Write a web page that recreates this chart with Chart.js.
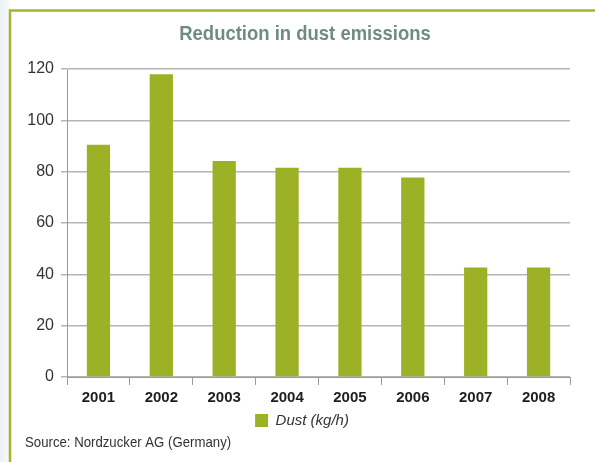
<!DOCTYPE html>
<html lang="en">
<head>
    <meta charset="UTF-8">
    <title>Reduction in dust emissions</title>
    <script src="https://cdn.jsdelivr.net/npm/chart.js"></script>
    <style>
        html, body { margin: 0; padding: 0; background: #fff; }
        #wrap { position: relative; width: 595px; height: 462px; }
    </style>
</head>
<body>
<div id="wrap"><canvas id="dustChart" width="595" height="462"></canvas></div>

<script>
    // data
    const years = ["2001", "2002", "2003", "2004", "2005", "2006", "2007", "2008"];
    const dust = [90.5, 118, 84.2, 81.5, 81.5, 77.7, 42.7, 42.7];
    const yTicks = [0, 20, 40, 60, 80, 100, 120];
    const seriesName = "Dust (kg/h)";
    const sourceText = "Source: Nordzucker AG (Germany)";

    const FONT = "'Liberation Sans Narrow', 'Liberation Sans', Arial, sans-serif";
    const GREEN = "#9db127";

    // text drawn squeezed a bit, the original uses a condensed face
    function narrowText(c, txt, x, y, align, sx) {
        c.save();
        c.translate(x, y);
        c.scale(sx, 1);
        c.textAlign = align;
        c.fillText(txt, 0, 0);
        c.restore();
    }

    // frame, title and source line
    const decor = {
        id: "decor",
        afterUpdate(chart) {
            // legend sits a little right of the canvas centre in the original
            chart.legend.left += 17;
            chart.legend.right += 17;
        },
        beforeDraw(chart) {
            const c = chart.ctx;
            c.save();
            c.fillStyle = "#fff";
            c.fillRect(0, 0, chart.width, chart.height);
            const g = c.createLinearGradient(0, 0, 10, 0);
            g.addColorStop(0, "#eef2f6");
            g.addColorStop(1, "#f8fafb");
            c.fillStyle = g;
            c.fillRect(0, 0, 10, chart.height);
            c.strokeStyle = "#a3b62f";
            c.lineWidth = 2.5;
            c.beginPath();
            c.moveTo(10, chart.height);
            c.lineTo(10, 10.5);
            c.lineTo(chart.width, 10.5);
            c.stroke();
            c.restore();
        },
        afterDraw(chart) {
            const c = chart.ctx;
            c.save();
            c.textBaseline = "middle";
            c.fillStyle = "#6f8b82";
            c.font = "bold 21px " + FONT;
            narrowText(c, "Reduction in dust emissions", 305, 34, "center", 0.88);
            c.fillStyle = "#333";
            c.font = "15px " + FONT;
            narrowText(c, sourceText, 25, 443, "left", 0.88);
            c.restore();
        }
    };

    new Chart(document.getElementById("dustChart"), {
        type: "bar",
        data: {
            labels: years,
            datasets: [{
                label: seriesName,
                data: dust,
                backgroundColor: GREEN,
                borderWidth: 0,
                categoryPercentage: 1,
                barPercentage: 0.37
            }]
        },
        options: {
            responsive: false,
            animation: false,
            devicePixelRatio: 1,
            layout: { padding: { top: 69, left: 0, right: 25, bottom: 24 } },
            plugins: {
                title: { display: false },
                tooltip: { enabled: false },
                legend: {
                    position: "bottom",
                    labels: {
                        boxWidth: 13,
                        boxHeight: 13,
                        padding: 6,
                        color: "#333",
                        font: { family: FONT, size: 15, style: "italic" }
                    }
                }
            },
            scales: {
                x: {
                    afterFit(s) { s.height = 30; },
                    grid: {
                        offset: true,
                        drawOnChartArea: false,
                        drawTicks: true,
                        tickLength: 8,
                        color: "#9a9a9a"
                    },
                    border: { color: "#9a9a9a", width: 1 },
                    ticks: {
                        color: "#1e1e1e",
                        padding: 4,
                        font: { family: FONT, size: 15, weight: "bold" }
                    }
                },
                y: {
                    z: 1,
                    min: 0,
                    max: 120,
                    afterFit(s) { s.width = 67; },
                    afterBuildTicks(s) { s.ticks = yTicks.map(v => ({ value: v })); },
                    grid: {
                        color: "#b5b5b5",
                        lineWidth: 1.5,
                        tickLength: 6
                    },
                    border: { color: "#9a9a9a", width: 1 },
                    ticks: {
                        color: "#333",
                        padding: 7,
                        font: { family: FONT, size: 16 }
                    }
                }
            }
        },
        plugins: [decor]
    });
</script>
</body>
</html>
